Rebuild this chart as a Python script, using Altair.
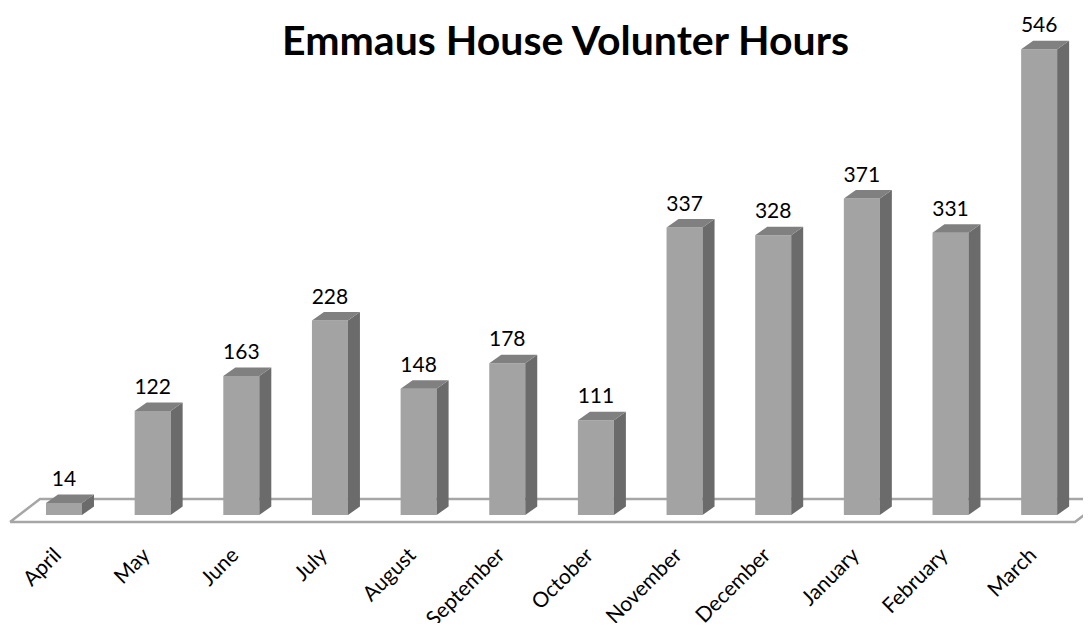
import altair as alt
import pandas as pd

months = ["April", "May", "June", "July", "August", "September",
          "October", "November", "December", "January", "February", "March"]
hours = [14, 122, 163, 228, 148, 178, 111, 337, 328, 371, 331, 546]
title_text = "Emmaus House Volunter Hours"

W, H = 1075, 615
X_DOM = [-0.6317, 11.4947]
Y_DOM = [-126.6, 594.4]
HW = 0.203       # half bar width (x units)
DDX = 0.1354     # depth offset in x units
DDY = 9.96       # depth offset in y units
LABEL_Y = -37.0
FLOOR_FRONT, FLOOR_BACK = -8.2, 18.8
FLOOR_X = [-0.609, -0.271, 11.743, 11.404]

front = pd.DataFrame({
    "month": months, "v": hours,
    "x0": [i - HW for i in range(12)], "x1": [i + HW for i in range(12)],
    "y0": [0] * 12,
})
side_rows, top_rows = [], []
for i, (m, v) in enumerate(zip(months, hours)):
    side_rows += [{"m": m, "x": i + HW, "lo": 0, "hi": v},
                  {"m": m, "x": i + HW + DDX, "lo": DDY, "hi": v + DDY}]
    top_rows += [{"m": m, "x": i - HW, "lo": v, "hi": v},
                 {"m": m, "x": i - HW + DDX, "lo": v, "hi": v + DDY},
                 {"m": m, "x": i + HW, "lo": v, "hi": v + DDY},
                 {"m": m, "x": i + HW + DDX, "lo": v + DDY, "hi": v + DDY}]
side = pd.DataFrame(side_rows)
top = pd.DataFrame(top_rows)
labels = pd.DataFrame({"month": months, "v": hours, "i": list(range(12)),
                       "ly": [LABEL_Y] * 12})
floor = pd.DataFrame({
    "x": [FLOOR_X[0], FLOOR_X[1], FLOOR_X[2], FLOOR_X[3], FLOOR_X[0]],
    "y": [FLOOR_FRONT, FLOOR_BACK, FLOOR_BACK, FLOOR_FRONT, FLOOR_FRONT],
    "o": [0, 1, 2, 3, 4],
})

xs = alt.Scale(domain=X_DOM, nice=False, zero=False)
ys = alt.Scale(domain=Y_DOM, nice=False, zero=False)
noax = None

floor_l = alt.Chart(floor).mark_line(color="#A6A6A6", strokeWidth=2.5, clip=False).encode(
    x=alt.X("x:Q", scale=xs, axis=noax),
    y=alt.Y("y:Q", scale=ys, axis=noax),
    order=alt.Order("o:Q"),
)
front_l = alt.Chart(front).mark_rect(color="#A3A3A3").encode(
    x=alt.X("x0:Q", scale=xs, axis=noax), x2="x1:Q",
    y=alt.Y("y0:Q", scale=ys, axis=noax), y2="v:Q",
)
side_l = alt.Chart(side).mark_area(color="#6B6B6B", orient="vertical", opacity=1).encode(
    x=alt.X("x:Q", scale=xs, axis=noax),
    y=alt.Y("lo:Q", scale=ys, axis=noax, stack=None), y2="hi:Q",
    detail="m:N",
)
top_l = alt.Chart(top).mark_area(color="#808080", orient="vertical", opacity=1).encode(
    x=alt.X("x:Q", scale=xs, axis=noax),
    y=alt.Y("lo:Q", scale=ys, axis=noax, stack=None), y2="hi:Q",
    detail="m:N",
)
val_l = alt.Chart(labels).mark_text(font="Lato", fontSize=21, color="#000000",
                                    baseline="alphabetic", align="center", dy=-17).encode(
    x=alt.X("i:Q", scale=xs, axis=noax),
    y=alt.Y("v:Q", scale=ys, axis=noax),
    text="v:Q",
)
mon_l = alt.Chart(labels).mark_text(font="Lato", fontSize=21, color="#000000",
                                    baseline="middle", align="right", angle=315, dx=-8).encode(
    x=alt.X("i:Q", scale=xs, axis=noax),
    y=alt.Y("ly:Q", scale=ys, axis=noax),
    text="month:N",
)

chart = alt.layer(floor_l, front_l, side_l, top_l, val_l, mon_l).properties(
    width=W, height=H,
    autosize=alt.AutoSizeParams(type="none"),
    padding=0,
    background="#FFFFFF",
    title=alt.TitleParams(title_text, font="Lato", fontSize=41, fontWeight="bold",
                          color="#000000", anchor="middle", baseline="alphabetic",
                          offset=0, dx=20, dy=88),
).configure_view(strokeWidth=0, stroke=None)

chart.save("out.html", embed_options={"renderer": "svg", "actions": False})
